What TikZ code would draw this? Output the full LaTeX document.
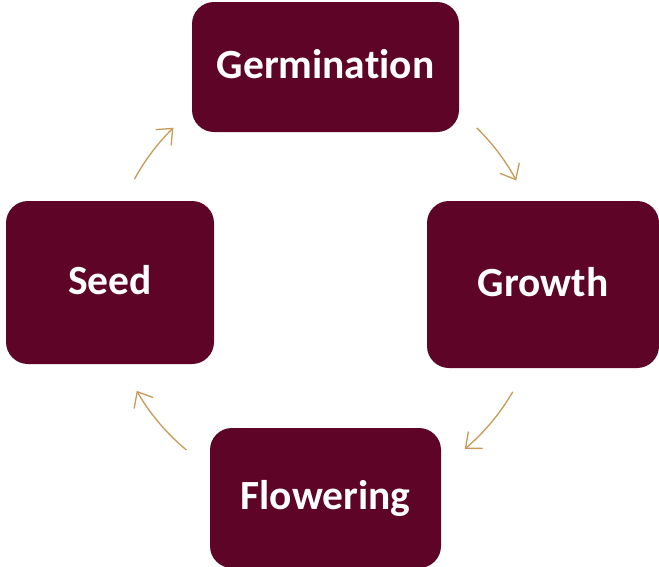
\documentclass[tikz,border=0pt]{standalone}
\usepackage{fontspec}
\setmainfont{Carlito}[Ligatures={NoCommon}]
\usetikzlibrary{arrows.meta,calc}
\definecolor{boxred}{HTML}{5E0427}
\definecolor{arrowgold}{HTML}{C89A58}
\tikzset{
  stage/.style={fill=boxred, rounded corners=22pt, inner sep=0pt,
    text=white, font=\fontsize{41.5pt}{48pt}\selectfont\bfseries,
    text height=31pt, text depth=8pt},
  cyclearrow/.style={draw=arrowgold, line width=1.3pt,
    -{Straight Barb[length=13pt, width=22pt, line width=1.3pt]}}
}
\begin{document}
\begin{tikzpicture}[x=1pt, y=-1pt]
  \useasboundingbox (0,0) rectangle (659,566);
  \clip (0,0) rectangle (659,566);
  \node[stage, minimum width=267pt, minimum height=130pt] (germ) at (325.5,67) {Germination};
  \node[stage, minimum width=232pt, minimum height=167pt] (grow) at (543,284.5) {Growth};
  \node[stage, minimum width=231pt, minimum height=140pt] (flow) at (325.5,498) {Flowering};
  \node[stage, minimum width=208pt, minimum height=163pt] (seed) at (110,282.5) {Seed};
  \coordinate (c) at (325,283);
  \coordinate (a1) at ($(c)+(-45.6:217)$);
  \coordinate (a2) at ($(c)+(30.1:217)$);
  \coordinate (a3) at ($(c)+(129.7:217)$);
  \coordinate (a4) at ($(c)+(-151.4:217)$);
  \draw[cyclearrow] (a1) arc[start angle=-45.6, end angle=-28.2, radius=217];
  \draw[cyclearrow] (a2) arc[start angle=30.1, end angle=49.9, radius=217];
  \draw[cyclearrow] (a3) arc[start angle=129.7, end angle=150.2, radius=217];
  \draw[cyclearrow] (a4) arc[start angle=-151.4, end angle=-134.3, radius=217];
\end{tikzpicture}
\end{document}
